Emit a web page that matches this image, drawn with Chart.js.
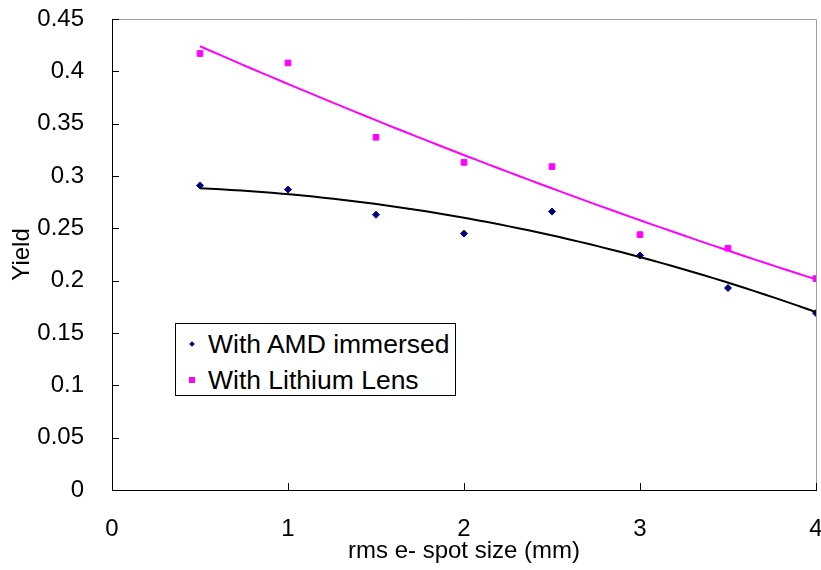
<!DOCTYPE html>
<html>
<head>
<meta charset="utf-8">
<script src="https://cdn.jsdelivr.net/npm/chart.js@4/dist/chart.umd.min.js"></script>
<style>
	html, body { margin: 0; padding: 0; background: #fff; }
	#wrap { position: relative; width: 821px; height: 570px; }
	#legend {
		position: absolute;
		left: 175px;
		top: 323px;
		width: 279px;
		height: 71px;
		border: 1px solid #000;
		background: #fff;
		font-family: 'Liberation Sans', Arial, sans-serif;
		font-size: 26.5px;
		color: #000;
	}
	#legend div { position: absolute; left: 0; height: 30px; line-height: 30px; white-space: nowrap; }
	#legend i { position: absolute; display: block; }
	#legend span { position: absolute; left: 32px; top: 0; }
</style>
</head>
<body>
<div id="wrap">
	<canvas id="chart" width="821" height="570"></canvas>
	<div id="legend"></div>
</div>
<script>
/* Spot size (mm) for each measurement. */
const spotSize = [0.5, 1, 1.5, 2, 2.5, 3, 3.5, 4];

/* Positron yield for the two target configurations. */
const yieldAmd = [0.291, 0.287, 0.263, 0.245, 0.266, 0.224, 0.193, 0.169];
const yieldLithium = [0.417, 0.408, 0.337, 0.313, 0.309, 0.244, 0.231, 0.202];

const seriesNames = ['With AMD immersed', 'With Lithium Lens'];
const seriesColors = ['#000080', '#ff00ff'];
const trendColors = ['#000000', '#ff00ff'];

const xTicks = [0, 1, 2, 3, 4];
const yTicks = [0, 0.05, 0.1, 0.15, 0.2, 0.25, 0.3, 0.35, 0.4, 0.45];

const font = 'Liberation Sans, Arial, sans-serif';

/*
 * Least-squares second order polynomial through (xs, ys), returned as
 * a function of x.
 */
function quadFit(xs, ys)
{
	const n = xs.length;
	let s = [0, 0, 0, 0, 0], t = [0, 0, 0];
	for (let i = 0; i < n; i++) {
		let p = 1;
		for (let k = 0; k < 5; k++) {
			s[k] += p;
			if (k < 3)
				t[k] += p * ys[i];
			p *= xs[i];
		}
	}
	const m = [
		[s[0], s[1], s[2], t[0]],
		[s[1], s[2], s[3], t[1]],
		[s[2], s[3], s[4], t[2]],
	];
	for (let i = 0; i < 3; i++) {
		for (let j = i + 1; j < 3; j++) {
			const f = m[j][i] / m[i][i];
			for (let k = i; k < 4; k++)
				m[j][k] -= f * m[i][k];
		}
	}
	const c = [0, 0, 0];
	for (let i = 2; i >= 0; i--) {
		let v = m[i][3];
		for (let k = i + 1; k < 3; k++)
			v -= m[i][k] * c[k];
		c[i] = v / m[i][i];
	}
	return x => c[0] + c[1] * x + c[2] * x * x;
}

/* Sample the fitted curve over the measured range. */
function trendPoints(ys)
{
	const f = quadFit(spotSize, ys);
	const lo = spotSize[0], hi = spotSize[spotSize.length - 1];
	const pts = [];
	for (let i = 0; i <= 60; i++) {
		const x = lo + (hi - lo) * i / 60;
		pts.push({ x: x, y: f(x) });
	}
	return pts;
}

const pairs = ys => spotSize.map((x, i) => ({ x: x, y: ys[i] }));

/* Tick marks point into the plot, plus the grey frame on top and right. */
const frame = {
	id: 'frame',
	afterDatasetsDraw(chart) {
		const { ctx, chartArea: a, scales: { x, y } } = chart;
		ctx.save();
		ctx.lineWidth = 1;
		ctx.strokeStyle = '#a0a0a0';
		ctx.beginPath();
		ctx.moveTo(a.left, a.top + 0.5);
		ctx.lineTo(a.right + 0.5, a.top + 0.5);
		ctx.lineTo(a.right + 0.5, a.bottom);
		ctx.stroke();
		ctx.strokeStyle = '#000';
		ctx.beginPath();
		for (const v of yTicks) {
			const py = Math.round(y.getPixelForValue(v)) + 0.5;
			ctx.moveTo(a.left, py);
			ctx.lineTo(a.left + 7, py);
		}
		for (const v of xTicks) {
			const px = Math.round(x.getPixelForValue(v)) + 0.5;
			ctx.moveTo(px, a.bottom);
			ctx.lineTo(px, a.bottom - 7);
		}
		ctx.stroke();
		ctx.restore();
	}
};

function drawLegend()
{
	const box = document.getElementById('legend');
	const rows = [];
	seriesNames.forEach((name, i) => {
		const row = document.createElement('div');
		row.style.top = (5 + i * 36) + 'px';
		const mark = document.createElement('i');
		mark.style.background = seriesColors[i];
		if (i === 0) {
			mark.style.width = '4px';
			mark.style.height = '4px';
			mark.style.left = '14px';
			mark.style.top = '13px';
			mark.style.transform = 'rotate(45deg)';
		} else {
			mark.style.width = '6px';
			mark.style.height = '6px';
			mark.style.left = '13px';
			mark.style.top = '12px';
		}
		const text = document.createElement('span');
		text.textContent = name;
		row.append(mark, text);
		rows.push(row);
	});
	box.replaceChildren(...rows);
}

function drawChart()
{
	const datasets = [{
		label: seriesNames[0] + ' trend',
		type: 'line',
		data: trendPoints(yieldAmd),
		borderColor: trendColors[0],
		borderWidth: 2,
		pointRadius: 0,
		tension: 0,
	}, {
		label: seriesNames[1] + ' trend',
		type: 'line',
		data: trendPoints(yieldLithium),
		borderColor: trendColors[1],
		borderWidth: 2,
		pointRadius: 0,
		tension: 0,
	}, {
		label: seriesNames[0],
		data: pairs(yieldAmd),
		pointStyle: 'rectRot',
		pointRadius: 3.5,
		backgroundColor: seriesColors[0],
		borderColor: seriesColors[0],
		borderWidth: 1,
	}, {
		label: seriesNames[1],
		data: pairs(yieldLithium),
		pointStyle: 'rect',
		pointRadius: 4,
		backgroundColor: seriesColors[1],
		borderColor: seriesColors[1],
		borderWidth: 1,
	}];

	new Chart(document.getElementById('chart'), {
		type: 'scatter',
		data: { datasets: datasets },
		plugins: [frame],
		options: {
			responsive: false,
			animation: false,
			layout: {
				padding: { top: 19, right: 4, bottom: 0, left: 0 },
			},
			plugins: {
				legend: { display: false },
				tooltip: { enabled: false },
			},
			scales: {
				x: {
					type: 'linear',
					min: 0,
					max: 4,
					afterBuildTicks: s => {
						s.ticks = xTicks.map(v => ({ value: v }));
					},
					afterFit: s => {
						s.height = 80;
						s.paddingLeft = 0;
						s.paddingRight = 0;
					},
					grid: { display: false },
					border: { display: true, color: '#000', width: 1 },
					ticks: {
						color: '#000',
						padding: 17,
						maxRotation: 0,
						font: { family: font, size: 24 },
					},
					title: {
						display: true,
						text: 'rms e- spot size (mm)',
						color: '#000',
						padding: { top: 0, bottom: 4 },
						font: { family: font, size: 24 },
					},
				},
				y: {
					type: 'linear',
					min: 0,
					max: 0.45,
					afterBuildTicks: s => {
						s.ticks = yTicks.map(v => ({ value: v }));
					},
					afterFit: s => {
						s.width = 112;
						s.paddingTop = 0;
						s.paddingBottom = 0;
					},
					grid: { display: false },
					border: { display: true, color: '#000', width: 1 },
					ticks: {
						color: '#000',
						padding: 20,
						font: { family: font, size: 24 },
						callback: v => String(Number(v.toFixed(2))),
					},
					title: {
						display: true,
						text: 'Yield',
						color: '#000',
						padding: { top: 8, bottom: 0 },
						font: { family: font, size: 24 },
					},
				},
			},
		},
	});
}

window.addEventListener('load', () => {
	drawChart();
	drawLegend();
});
</script>
</body>
</html>
